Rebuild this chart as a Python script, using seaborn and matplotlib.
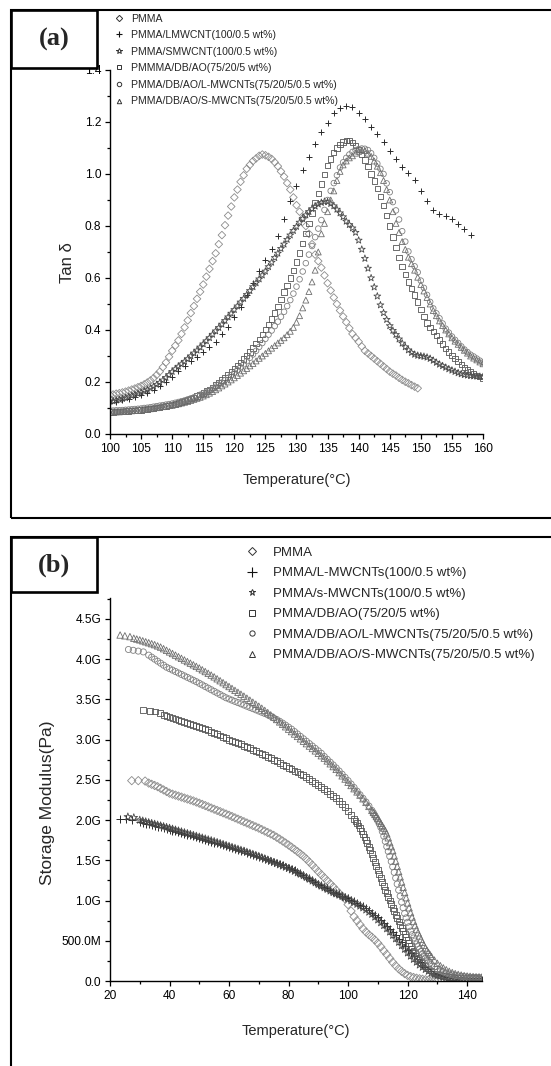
import numpy as np
import matplotlib
matplotlib.use("Agg")
import matplotlib.pyplot as plt
from matplotlib.lines import Line2D
from matplotlib.patches import Rectangle
from matplotlib.ticker import MultipleLocator, FuncFormatter, FormatStrFormatter
import seaborn as sns

# ---------------------------------------------------------------
# (a) tan delta vs temperature
# ---------------------------------------------------------------
temp_a = np.arange(100.0, 160.01, 0.5)        # 121 readings
temp_a_pmma = np.arange(100.0, 149.51, 0.5)   # 100 readings
temp_a_lmw = np.arange(100.0, 158.01, 1.0)    # 59 readings

tan_pmma = [
    0.150, 0.152, 0.155, 0.157, 0.160, 0.163, 0.167, 0.171, 0.175, 0.180,
    0.185, 0.191, 0.198, 0.206, 0.215, 0.227, 0.240, 0.257, 0.275, 0.297,
    0.320, 0.340, 0.360, 0.385, 0.410, 0.437, 0.465, 0.492, 0.520, 0.547,
    0.575, 0.605, 0.635, 0.665, 0.695, 0.730, 0.765, 0.803, 0.840, 0.875,
    0.910, 0.940, 0.970, 0.995, 1.020, 1.035, 1.050, 1.060, 1.070, 1.075,
    1.072, 1.066, 1.058, 1.045, 1.030, 1.010, 0.990, 0.965, 0.940, 0.910,
    0.880, 0.855, 0.830, 0.800, 0.770, 0.730, 0.690, 0.665, 0.640, 0.610,
    0.580, 0.552, 0.525, 0.500, 0.475, 0.452, 0.430, 0.407, 0.385, 0.370,
    0.355, 0.337, 0.320, 0.310, 0.300, 0.290, 0.280, 0.270, 0.260, 0.250,
    0.240, 0.232, 0.225, 0.216, 0.208, 0.201, 0.195, 0.188, 0.182, 0.176,
]

tan_lmwcnt = [
    0.120, 0.124, 0.129, 0.135, 0.142, 0.150, 0.159, 0.170, 0.183, 0.200,
    0.220, 0.242, 0.262, 0.280, 0.297, 0.315, 0.333, 0.355, 0.385, 0.410,
    0.450, 0.490, 0.535, 0.580, 0.625, 0.668, 0.710, 0.760, 0.825, 0.895,
    0.955, 1.015, 1.065, 1.115, 1.160, 1.195, 1.235, 1.252, 1.260, 1.258,
    1.235, 1.210, 1.180, 1.152, 1.122, 1.088, 1.058, 1.028, 1.003, 0.975,
    0.935, 0.895, 0.862, 0.845, 0.838, 0.825, 0.808, 0.788, 0.765,
]

tan_smwcnt = [
    0.125, 0.127, 0.130, 0.133, 0.136, 0.139, 0.143, 0.147, 0.151, 0.155,
    0.160, 0.165, 0.170, 0.176, 0.183, 0.190, 0.198, 0.207, 0.217, 0.228,
    0.240, 0.250, 0.260, 0.269, 0.279, 0.289, 0.300, 0.311, 0.322, 0.334,
    0.346, 0.358, 0.370, 0.383, 0.396, 0.409, 0.422, 0.436, 0.450, 0.464,
    0.478, 0.492, 0.507, 0.521, 0.536, 0.551, 0.566, 0.581, 0.596, 0.611,
    0.626, 0.643, 0.660, 0.678, 0.695, 0.713, 0.730, 0.748, 0.765, 0.782,
    0.798, 0.814, 0.828, 0.842, 0.855, 0.866, 0.876, 0.884, 0.890, 0.894,
    0.893, 0.886, 0.877, 0.864, 0.850, 0.835, 0.818, 0.805, 0.792, 0.775,
    0.745, 0.710, 0.675, 0.637, 0.600, 0.565, 0.530, 0.496, 0.466, 0.440,
    0.416, 0.398, 0.382, 0.365, 0.349, 0.335, 0.323, 0.313, 0.306, 0.302,
    0.300, 0.298, 0.295, 0.290, 0.283, 0.275, 0.268, 0.262, 0.256, 0.250,
    0.245, 0.240, 0.235, 0.231, 0.228, 0.226, 0.224, 0.223, 0.222, 0.221,
    0.220,
]

tan_dbao = [
    0.085, 0.085, 0.086, 0.086, 0.087, 0.088, 0.089, 0.090, 0.091, 0.092,
    0.093, 0.095, 0.096, 0.098, 0.099, 0.101, 0.103, 0.105, 0.107, 0.110,
    0.113, 0.116, 0.119, 0.123, 0.127, 0.131, 0.136, 0.141, 0.146, 0.152,
    0.158, 0.165, 0.172, 0.180, 0.188, 0.197, 0.207, 0.218, 0.229, 0.240,
    0.252, 0.264, 0.276, 0.289, 0.302, 0.316, 0.331, 0.347, 0.364, 0.382,
    0.401, 0.421, 0.442, 0.466, 0.490, 0.518, 0.546, 0.572, 0.600, 0.630,
    0.662, 0.696, 0.732, 0.770, 0.810, 0.850, 0.890, 0.926, 0.962, 0.998,
    1.032, 1.058, 1.082, 1.100, 1.114, 1.123, 1.128, 1.128, 1.122, 1.110,
    1.094, 1.076, 1.054, 1.028, 1.000, 0.973, 0.945, 0.913, 0.880, 0.840,
    0.800, 0.758, 0.718, 0.680, 0.645, 0.614, 0.585, 0.560, 0.535, 0.507,
    0.478, 0.452, 0.427, 0.410, 0.394, 0.378, 0.362, 0.346, 0.330, 0.316,
    0.302, 0.290, 0.278, 0.267, 0.256, 0.248, 0.240, 0.233, 0.226, 0.220,
    0.215,
]

tan_dbao_l = [
    0.090, 0.090, 0.091, 0.091, 0.092, 0.093, 0.094, 0.095, 0.096, 0.097,
    0.098, 0.100, 0.101, 0.103, 0.105, 0.107, 0.109, 0.111, 0.113, 0.115,
    0.117, 0.120, 0.123, 0.126, 0.129, 0.133, 0.137, 0.141, 0.146, 0.151,
    0.156, 0.162, 0.168, 0.175, 0.182, 0.190, 0.198, 0.207, 0.216, 0.226,
    0.236, 0.246, 0.257, 0.268, 0.280, 0.293, 0.306, 0.320, 0.335, 0.350,
    0.366, 0.382, 0.398, 0.415, 0.432, 0.451, 0.470, 0.492, 0.515, 0.540,
    0.567, 0.595, 0.625, 0.657, 0.690, 0.723, 0.757, 0.790, 0.823, 0.862,
    0.900, 0.935, 0.965, 0.995, 1.025, 1.045, 1.062, 1.075, 1.085, 1.092,
    1.096, 1.098, 1.097, 1.092, 1.080, 1.062, 1.040, 1.020, 1.000, 0.964,
    0.930, 0.892, 0.860, 0.825, 0.780, 0.740, 0.702, 0.672, 0.645, 0.622,
    0.590, 0.562, 0.535, 0.508, 0.483, 0.464, 0.445, 0.425, 0.405, 0.390,
    0.375, 0.362, 0.350, 0.337, 0.325, 0.315, 0.305, 0.298, 0.290, 0.282,
    0.275,
]

tan_dbao_s = [
    0.084, 0.084, 0.085, 0.085, 0.086, 0.087, 0.088, 0.089, 0.090, 0.091,
    0.092, 0.094, 0.095, 0.097, 0.099, 0.101, 0.103, 0.105, 0.107, 0.109,
    0.110, 0.113, 0.116, 0.119, 0.122, 0.125, 0.129, 0.133, 0.137, 0.141,
    0.146, 0.151, 0.157, 0.163, 0.170, 0.177, 0.185, 0.192, 0.200, 0.208,
    0.216, 0.225, 0.234, 0.243, 0.252, 0.262, 0.271, 0.281, 0.291, 0.300,
    0.310, 0.320, 0.330, 0.340, 0.350, 0.360, 0.370, 0.382, 0.395, 0.410,
    0.430, 0.455, 0.485, 0.515, 0.548, 0.585, 0.630, 0.700, 0.770, 0.810,
    0.855, 0.900, 0.935, 0.975, 1.010, 1.035, 1.050, 1.062, 1.070, 1.080,
    1.087, 1.092, 1.090, 1.080, 1.068, 1.050, 1.030, 1.005, 0.975, 0.940,
    0.900, 0.855, 0.810, 0.775, 0.740, 0.710, 0.680, 0.655, 0.630, 0.603,
    0.575, 0.550, 0.525, 0.500, 0.475, 0.455, 0.435, 0.417, 0.400, 0.385,
    0.370, 0.357, 0.345, 0.333, 0.322, 0.311, 0.300, 0.292, 0.285, 0.277,
    0.270,
]

labels_a = [
    "PMMA",
    "PMMA/LMWCNT(100/0.5 wt%)",
    "PMMA/SMWCNT(100/0.5 wt%)",
    "PMMMA/DB/AO(75/20/5 wt%)",
    "PMMA/DB/AO/L-MWCNTs(75/20/5/0.5 wt%)",
    "PMMA/DB/AO/S-MWCNTs(75/20/5/0.5 wt%)",
]

# ---------------------------------------------------------------
# (b) storage modulus (GPa) vs temperature
# ---------------------------------------------------------------
temp_b_pmma = np.concatenate([[27.3, 29.5, 31.8], np.arange(33, 131)])
mod_pmma = [
    2.490, 2.490, 2.485,
    2.460, 2.445, 2.430, 2.415, 2.395, 2.375, 2.355, 2.335, 2.322, 2.310,
    2.298, 2.286, 2.274, 2.262, 2.250, 2.238, 2.224, 2.210, 2.195, 2.180,
    2.165, 2.150, 2.135, 2.120, 2.105, 2.090, 2.075, 2.060, 2.044, 2.028,
    2.012, 1.996, 1.980, 1.964, 1.948, 1.932, 1.916, 1.900, 1.882, 1.864,
    1.846, 1.828, 1.810, 1.787, 1.764, 1.740, 1.715, 1.690, 1.663, 1.636,
    1.608, 1.579, 1.550, 1.515, 1.478, 1.440, 1.400, 1.360, 1.322, 1.284,
    1.246, 1.208, 1.170, 1.130, 1.090, 1.055, 1.020, 0.950, 0.870, 0.800,
    0.750, 0.700, 0.650, 0.610, 0.575, 0.545, 0.510, 0.470, 0.425, 0.375,
    0.330, 0.280, 0.232, 0.190, 0.152, 0.120, 0.092, 0.070, 0.055, 0.044,
    0.035, 0.028, 0.022, 0.016, 0.012, 0.009, 0.006, 0.004,
]

temp_b_l = np.concatenate([[23.4, 25.5, 27.5], np.arange(30, 146)])
mod_l = [
    2.010, 2.010, 2.005,
    1.975, 1.966, 1.957, 1.948, 1.939, 1.930, 1.920, 1.910, 1.900, 1.890,
    1.880, 1.870, 1.860, 1.850, 1.840, 1.830, 1.820, 1.810, 1.800, 1.790,
    1.780, 1.768, 1.756, 1.744, 1.732, 1.720, 1.709, 1.698, 1.687, 1.676,
    1.665, 1.654, 1.643, 1.632, 1.621, 1.610, 1.597, 1.584, 1.571, 1.558,
    1.545, 1.531, 1.517, 1.503, 1.489, 1.475, 1.462, 1.449, 1.436, 1.423,
    1.410, 1.392, 1.374, 1.356, 1.338, 1.320, 1.298, 1.276, 1.254, 1.232,
    1.210, 1.190, 1.170, 1.150, 1.130, 1.110, 1.094, 1.078, 1.062, 1.046,
    1.030, 1.010, 0.990, 0.970, 0.950, 0.930, 0.905, 0.878, 0.850, 0.820,
    0.790, 0.755, 0.720, 0.685, 0.650, 0.610, 0.570, 0.525, 0.480, 0.435,
    0.390, 0.350, 0.310, 0.272, 0.235, 0.200, 0.170, 0.143, 0.120, 0.100,
    0.085, 0.072, 0.060, 0.052, 0.045, 0.040, 0.035, 0.031, 0.028, 0.025,
    0.022, 0.020, 0.018, 0.016, 0.015, 0.014,
]

temp_b_s = np.concatenate([[26.0, 28.0], np.arange(30, 146)])
mod_s = [
    2.040, 2.030,
    2.000, 1.990, 1.980, 1.970, 1.960, 1.950, 1.940, 1.930, 1.920, 1.910,
    1.900, 1.889, 1.878, 1.867, 1.856, 1.845, 1.834, 1.823, 1.812, 1.801,
    1.790, 1.779, 1.768, 1.757, 1.746, 1.735, 1.723, 1.711, 1.699, 1.687,
    1.675, 1.663, 1.651, 1.639, 1.627, 1.615, 1.602, 1.589, 1.576, 1.563,
    1.550, 1.535, 1.520, 1.505, 1.490, 1.475, 1.460, 1.445, 1.430, 1.415,
    1.400, 1.382, 1.364, 1.346, 1.328, 1.310, 1.288, 1.266, 1.244, 1.222,
    1.200, 1.180, 1.160, 1.140, 1.120, 1.100, 1.084, 1.068, 1.052, 1.036,
    1.020, 0.998, 0.976, 0.954, 0.932, 0.910, 0.884, 0.857, 0.830, 0.795,
    0.760, 0.725, 0.690, 0.650, 0.610, 0.568, 0.525, 0.482, 0.440, 0.395,
    0.350, 0.310, 0.270, 0.235, 0.200, 0.172, 0.145, 0.122, 0.100, 0.084,
    0.070, 0.060, 0.050, 0.044, 0.038, 0.034, 0.030, 0.027, 0.025, 0.022,
    0.020, 0.018, 0.017, 0.016, 0.015, 0.014,
]

temp_b_dbao = np.concatenate([[31.2, 33.4, 35.1, 36.8], np.arange(38, 146)])
mod_dbao = [
    3.370, 3.360, 3.350, 3.335,
    3.310, 3.295, 3.280, 3.268, 3.256, 3.244, 3.232, 3.220, 3.208, 3.196,
    3.184, 3.172, 3.160, 3.145, 3.130, 3.115, 3.100, 3.085, 3.068, 3.051,
    3.034, 3.017, 3.000, 2.985, 2.970, 2.955, 2.940, 2.925, 2.908, 2.891,
    2.874, 2.857, 2.840, 2.822, 2.804, 2.786, 2.768, 2.750, 2.730, 2.710,
    2.690, 2.670, 2.650, 2.632, 2.614, 2.596, 2.578, 2.560, 2.536, 2.512,
    2.488, 2.464, 2.440, 2.412, 2.384, 2.356, 2.328, 2.300, 2.270, 2.235,
    2.198, 2.158, 2.115, 2.068, 2.018, 1.962, 1.900, 1.830, 1.752, 1.668,
    1.578, 1.482, 1.382, 1.280, 1.180, 1.090, 1.000, 0.910, 0.825, 0.740,
    0.660, 0.580, 0.505, 0.435, 0.372, 0.315, 0.262, 0.220, 0.185, 0.155,
    0.130, 0.110, 0.093, 0.080, 0.069, 0.060, 0.052, 0.046, 0.042, 0.039,
    0.037, 0.035, 0.034, 0.033, 0.032, 0.032, 0.031, 0.031,
]
# extra readings on the steep part of the DB/AO curve (102.5 ... 124.5 °C)
temp_b_dbao_mid = np.arange(102.5, 124.6, 1.0)
mod_dbao_mid = [
    1.990, 1.932, 1.866, 1.792, 1.710, 1.624, 1.530, 1.432, 1.331, 1.230,
    1.135, 1.045, 0.955, 0.868, 0.782, 0.700, 0.620, 0.542, 0.470, 0.403,
    0.343, 0.288, 0.240,
]

temp_b_dbao_l = np.concatenate([[26.2, 27.8, 29.5, 31.2], np.arange(33, 146)])
mod_dbao_l = [
    4.120, 4.110, 4.100, 4.090,
    4.050, 4.025, 4.000, 3.975, 3.950, 3.925, 3.900, 3.882, 3.864, 3.846,
    3.828, 3.810, 3.792, 3.774, 3.756, 3.738, 3.720, 3.700, 3.680, 3.660,
    3.640, 3.620, 3.600, 3.580, 3.560, 3.540, 3.520, 3.505, 3.490, 3.475,
    3.460, 3.445, 3.430, 3.415, 3.400, 3.385, 3.370, 3.355, 3.340, 3.325,
    3.308, 3.290, 3.270, 3.250, 3.228, 3.205, 3.180, 3.155, 3.130, 3.100,
    3.070, 3.040, 3.010, 2.980, 2.950, 2.920, 2.890, 2.860, 2.830, 2.790,
    2.755, 2.720, 2.685, 2.648, 2.610, 2.570, 2.530, 2.490, 2.448, 2.405,
    2.360, 2.315, 2.270, 2.225, 2.175, 2.120, 2.060, 1.990, 1.910, 1.800,
    1.670, 1.550, 1.420, 1.280, 1.130, 0.980, 0.840, 0.730, 0.620, 0.535,
    0.460, 0.395, 0.340, 0.290, 0.245, 0.205, 0.175, 0.150, 0.130, 0.113,
    0.099, 0.087, 0.077, 0.069, 0.063, 0.058, 0.054, 0.050, 0.047, 0.045,
    0.044, 0.043, 0.042,
]
temp_b_dbao_l_mid = np.arange(108.5, 127.6, 1.0)
mod_dbao_l_mid = [
    2.090, 2.025, 1.952, 1.858, 1.735, 1.610, 1.485, 1.350, 1.205, 1.055,
    0.910, 0.785, 0.675, 0.575, 0.497, 0.427, 0.367, 0.315, 0.267, 0.225,
]

temp_b_dbao_s = np.concatenate([[23.4, 25.0, 26.7], np.arange(28, 146)])
mod_dbao_s = [
    4.300, 4.290, 4.280,
    4.260, 4.250, 4.240, 4.228, 4.216, 4.204, 4.192, 4.180, 4.165, 4.150,
    4.130, 4.110, 4.090, 4.070, 4.050, 4.030, 4.010, 3.990, 3.970, 3.950,
    3.930, 3.910, 3.890, 3.868, 3.846, 3.824, 3.802, 3.780, 3.756, 3.732,
    3.708, 3.684, 3.660, 3.636, 3.612, 3.588, 3.564, 3.540, 3.515, 3.490,
    3.465, 3.440, 3.415, 3.390, 3.363, 3.336, 3.308, 3.280, 3.250, 3.220,
    3.190, 3.160, 3.130, 3.100, 3.070, 3.040, 3.010, 2.980, 2.950, 2.920,
    2.890, 2.860, 2.830, 2.800, 2.770, 2.735, 2.700, 2.665, 2.630, 2.590,
    2.550, 2.510, 2.470, 2.430, 2.390, 2.350, 2.310, 2.265, 2.220, 2.170,
    2.120, 2.070, 2.020, 1.960, 1.900, 1.830, 1.720, 1.620, 1.490, 1.360,
    1.230, 1.100, 0.970, 0.850, 0.740, 0.640, 0.560, 0.480, 0.410, 0.355,
    0.305, 0.260, 0.220, 0.190, 0.163, 0.140, 0.120, 0.105, 0.092, 0.082,
    0.074, 0.067, 0.062, 0.058, 0.055, 0.053, 0.052, 0.051,
]
temp_b_dbao_s_mid = np.arange(108.5, 127.6, 1.0)
mod_dbao_s_mid = [
    2.095, 2.045, 1.990, 1.930, 1.868, 1.780, 1.670, 1.555, 1.425, 1.295,
    1.165, 1.035, 0.910, 0.795, 0.690, 0.600, 0.520, 0.445, 0.382, 0.330,
]

labels_b = [
    "PMMA",
    "PMMA/L-MWCNTs(100/0.5 wt%)",
    "PMMA/s-MWCNTs(100/0.5 wt%)",
    "PMMA/DB/AO(75/20/5 wt%)",
    "PMMA/DB/AO/L-MWCNTs(75/20/5/0.5 wt%)",
    "PMMA/DB/AO/S-MWCNTs(75/20/5/0.5 wt%)",
]

# ---------------------------------------------------------------
# styling
# ---------------------------------------------------------------
sns.set_style("ticks")
SANS = "Liberation Sans"

plt.rcParams.update({
    "font.family": [SANS, "DejaVu Sans"],
    "axes.linewidth": 1.0,
    "axes.edgecolor": "black",
    "xtick.color": "black", "ytick.color": "black",
    "xtick.direction": "out", "ytick.direction": "out",
    "xtick.major.size": 3.8, "ytick.major.size": 3.8,
    "xtick.minor.size": 2.2, "ytick.minor.size": 2.2,
    "xtick.major.width": 0.9, "ytick.major.width": 0.9,
    "xtick.minor.width": 0.9, "ytick.minor.width": 0.9,
    "xtick.major.pad": 2.5, "ytick.major.pad": 2.5,
})

W, H = 551, 1066
fig = plt.figure(figsize=(W / 100, H / 100), dpi=100, facecolor="white")


def fx(px):
    return px / W


def fy(py):
    return 1 - py / H


ax_a = fig.add_axes([fx(110), fy(434), (483 - 110) / W, (434 - 70) / H])
ax_b = fig.add_axes([fx(110), fy(981), (482 - 110) / W, (981 - 598) / H])

STYLE = {
    # marker, edge colour, size (pt^2)
    "pmma": ("D", "#8c8c8c", 15),
    "lmw": ("+", "#2a2a2a", 22),
    "smw": ("*", "#4a4a4a", 27),
    "dbao": ("s", "#555555", 15),
    "dbao_l": ("o", "#808080", 16),
    "dbao_s": ("^", "#6e6e6e", 18),
}
ORDER = ["pmma", "lmw", "smw", "dbao", "dbao_l", "dbao_s"]


def draw(ax, x, y, key, scale=1.0):
    marker, col, size = STYLE[key]
    assert len(x) == len(y), key
    if marker == "+":
        sns.scatterplot(x=x, y=y, ax=ax, marker=marker, s=size * scale,
                        color=col, linewidth=0.7, legend=False)
    else:
        sns.scatterplot(x=x, y=y, ax=ax, marker=marker, s=size * scale,
                        color=col, facecolor="none", edgecolor=col,
                        linewidth=0.6, legend=False)


# ---- panel (a)
draw(ax_a, temp_a_pmma, tan_pmma, "pmma")
draw(ax_a, temp_a_lmw, tan_lmwcnt, "lmw")
draw(ax_a, temp_a, tan_smwcnt, "smw")
draw(ax_a, temp_a, tan_dbao, "dbao")
draw(ax_a, temp_a, tan_dbao_l, "dbao_l")
draw(ax_a, temp_a, tan_dbao_s, "dbao_s")

TICK_FS = 8.6
LABEL_FS = 10.5

ax_a.set_xlim(100, 160)
ax_a.set_ylim(0, 1.4)
ax_a.xaxis.set_major_locator(MultipleLocator(5))
ax_a.xaxis.set_minor_locator(MultipleLocator(2.5))
ax_a.yaxis.set_major_locator(MultipleLocator(0.2))
ax_a.yaxis.set_minor_locator(MultipleLocator(0.1))
ax_a.yaxis.set_major_formatter(FormatStrFormatter("%.1f"))
ax_a.tick_params(which="both", labelsize=TICK_FS)
ax_a.set_xlabel("Temperature(°C)", fontsize=LABEL_FS)
ax_a.xaxis.set_label_coords(0.5, -0.106)
ax_a.set_ylabel("Tan δ", fontsize=12)
ax_a.yaxis.set_label_coords(-0.094, 0.47)
sns.despine(ax=ax_a)

# ---- panel (b)
GPA = 1e9
BS = 1.2
draw(ax_b, temp_b_pmma, np.array(mod_pmma) * GPA, "pmma", BS)
draw(ax_b, temp_b_l, np.array(mod_l) * GPA, "lmw", BS)
draw(ax_b, temp_b_s, np.array(mod_s) * GPA, "smw", BS)
draw(ax_b, temp_b_dbao, np.array(mod_dbao) * GPA, "dbao", BS)
draw(ax_b, temp_b_dbao_mid, np.array(mod_dbao_mid) * GPA, "dbao", BS)
draw(ax_b, temp_b_dbao_l, np.array(mod_dbao_l) * GPA, "dbao_l", BS)
draw(ax_b, temp_b_dbao_l_mid, np.array(mod_dbao_l_mid) * GPA, "dbao_l", BS)
draw(ax_b, temp_b_dbao_s, np.array(mod_dbao_s) * GPA, "dbao_s", BS)
draw(ax_b, temp_b_dbao_s_mid, np.array(mod_dbao_s_mid) * GPA, "dbao_s", BS)


def modulus_fmt(v, _pos):
    if abs(v) < 1:
        return "0.0"
    if v < GPA:
        return f"{v / 1e6:.1f}M"
    return f"{v / GPA:.1f}G"


ax_b.set_xlim(20, 145)
ax_b.set_ylim(0, 4.76 * GPA)
ax_b.xaxis.set_major_locator(MultipleLocator(20))
ax_b.xaxis.set_minor_locator(MultipleLocator(10))
ax_b.yaxis.set_major_locator(MultipleLocator(0.5 * GPA))
ax_b.yaxis.set_minor_locator(MultipleLocator(0.25 * GPA))
ax_b.yaxis.set_major_formatter(FuncFormatter(modulus_fmt))
ax_b.tick_params(which="both", labelsize=TICK_FS)
ax_b.set_xlabel("Temperature(°C)", fontsize=LABEL_FS)
ax_b.xaxis.set_label_coords(0.5, -0.112)
ax_b.set_ylabel("Storage Modulus(Pa)", fontsize=12.5)
ax_b.yaxis.set_label_coords(-0.148, 0.465)
sns.despine(ax=ax_b)


# ---- legends
def handles(ms_scale, plus_ms, col="#333333"):
    out = []
    for key in ORDER:
        marker = STYLE[key][0]
        if marker == "+":
            out.append(Line2D([], [], ls="none", marker="+", ms=plus_ms,
                              color="#111111", mew=0.8))
        else:
            ms = ms_scale * (1.25 if marker == "*" else 1.0)
            out.append(Line2D([], [], ls="none", marker=marker, ms=ms,
                              mfc="none", mec=col, mew=0.7))
    return out


ax_a.legend(handles(3.2, 4.5), labels_a, loc="upper left",
            bbox_to_anchor=(fx(114), fy(13.5)), bbox_transform=fig.transFigure,
            frameon=False, prop={"family": SANS, "size": 7.6},
            handlelength=1.0, handletextpad=0.6, labelspacing=0.62,
            borderpad=0, borderaxespad=0)

ax_b.legend(handles(3.8, 7.0), labels_b, loc="upper left",
            bbox_to_anchor=(fx(245.5), fy(546.5)), bbox_transform=fig.transFigure,
            frameon=False, prop={"family": SANS, "size": 9.5},
            handlelength=1.0, handletextpad=1.08, labelspacing=0.63,
            borderpad=0, borderaxespad=0)

# ---- panel frames and letter boxes
fig.add_artist(Rectangle((fx(11), fy(518)), (700 - 11) / W, (518 - 10) / H,
                         transform=fig.transFigure, fill=False,
                         edgecolor="black", lw=1.5))
fig.add_artist(Rectangle((fx(11), fy(68)), 86 / W, 58 / H,
                         transform=fig.transFigure, facecolor="white",
                         edgecolor="black", lw=1.9))
fig.text(fx(54), fy(39), "(a)", ha="center", va="center",
         family="Liberation Serif", weight="bold", size=19)

fig.add_artist(Rectangle((fx(11), fy(1120)), (700 - 11) / W, (1120 - 537) / H,
                         transform=fig.transFigure, fill=False,
                         edgecolor="black", lw=1.5))
fig.add_artist(Rectangle((fx(11), fy(592)), 86 / W, 55 / H,
                         transform=fig.transFigure, facecolor="white",
                         edgecolor="black", lw=1.9))
fig.text(fx(54), fy(565), "(b)", ha="center", va="center",
         family="Liberation Serif", weight="bold", size=19)

fig.savefig("out.png", dpi=100, facecolor="white")
